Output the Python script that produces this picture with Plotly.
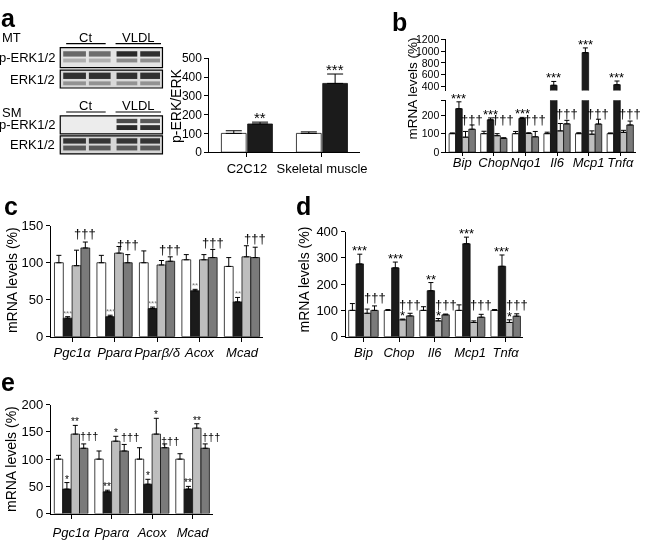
import plotly.graph_objects as go

W, H = 648, 543
FONT = "Liberation Sans, Arial, sans-serif"

# ---------------- data ----------------
# panel a : p-ERK/ERK
a_cats = ["C2C12", "Skeletal muscle"]
a_ct = [100, 100]
a_ct_top = [114, 108]
a_vldl = [150, 366]
a_vldl_top = [160, 416]
a_sig = ["**", "***"]

# panel b : broken axis
b_cats = ["Bip", "Chop", "Nqo1", "Il6", "Mcp1", "Tnfα"]
b_vals = [
    [100, 100, 100, 100, 100, 100],
    [235, 175, 182, 420, 975, 430],
    [81, 89, 101, 115, 97, 107],
    [124, 75, 83, 153, 152, 147],
]
b_tops = [
    [104, 113, 112, 108, 105, 104],
    [272, 185, 188, 485, 1055, 492],
    [112, 100, 105, 155, 115, 118],
    [147, 78, 112, 172, 178, 168],
]
b_star = ["***", "***", "***", "***", "***", "***"]
b_dag_level = [177, 178, 178, 207, 207, 207]
b_low_max = 280
b_up_min = 329

# panel c
c_cats = ["Pgc1α", "Pparα", "Pparβ/δ", "Acox", "Mcad"]
c_vals = [
    [100, 100, 100, 104, 95],
    [25, 27, 38, 62, 47],
    [96, 113, 97, 104, 108],
    [120, 100, 102, 107, 107],
]
c_tops = [
    [110, 110, 116, 111, 107],
    [27, 29, 40, 64, 53],
    [117, 122, 103, 111, 123],
    [128, 111, 108, 118, 121],
]
c_star = ["***", "***", "***", "**", "**"]
c_dag_level = [139, 124, 118, 128, 133]

# panel d
d_cats = ["Bip", "Chop", "Il6", "Mcp1", "Tnfα"]
d_vals = [
    [100, 100, 100, 100, 100],
    [277, 262, 175, 354, 268],
    [89, 64, 60, 54, 54],
    [100, 79, 83, 74, 78],
]
d_tops = [
    [126, 103, 114, 121, 103],
    [314, 284, 206, 379, 311],
    [105, 67, 69, 60, 64],
    [117, 89, 86, 85, 87],
]
d_star_black = ["***", "***", "**", "***", "***"]
d_star_gray = ["", "*", "*", "", "*"]
d_dag_level = [148, 124, 124, 124, 124]

# panel e
e_cats = ["Pgc1α", "Pparα", "Acox", "Mcad"]
e_vals = [
    [100, 100, 100, 100],
    [45, 40, 54, 45],
    [146, 133, 146, 157],
    [120, 115, 121, 120],
]
e_tops = [
    [107, 115, 121, 110],
    [57, 43, 63, 50],
    [162, 142, 175, 165],
    [128, 127, 128, 128],
]
e_star_black = ["*", "**", "*", "**"]
e_star_gray = ["**", "*", "*", "**"]
e_dag_level = [143, 140, 134, 140]

# ---------------- helpers ----------------
def px(x):
    return x / W


def py(y):
    return 1 - y / H


COLORS = ["#ffffff", "#1b1b1b", "#bebebe", "#7a7a7a"]
BARGAP = 0.17
BW = (1 - BARGAP) / 4


def off(i):
    return -(1 - BARGAP) / 2 + (i + 0.5) * BW


fig = go.Figure()


def add_bars(xa, ya, cats, vals, tops, color, cap=2.5, **kw):
    err = [None if (v is None or t is None) else t - v for v, t in zip(vals, tops)]
    fig.add_trace(go.Bar(
        x=cats, y=vals, xaxis=xa, yaxis=ya,
        marker=dict(color=color, line=dict(color="#111", width=0.8)),
        error_y=dict(type="data", symmetric=False, array=err,
                     arrayminus=[0] * len(vals), color="black",
                     thickness=1, width=cap),
        showlegend=False, hoverinfo="skip", **kw))


def ann(xref, yref, x, y, text, size, yanchor="bottom", xanchor="center",
        color="black", yshift=0, xshift=0, **kw):
    fig.add_annotation(x=x, y=y, xref=xref, yref=yref, text=text,
                       showarrow=False, xanchor=xanchor, yanchor=yanchor,
                       yshift=yshift, xshift=xshift,
                       font=dict(family=FONT, size=size, color=color), **kw)


def pann(x, y, text, size, xanchor="center", yanchor="middle", bold=False,
         angle=0):
    fig.add_annotation(x=px(x), y=py(y), xref="paper", yref="paper",
                       text=f"<b>{text}</b>" if bold else text,
                       showarrow=False, xanchor=xanchor, yanchor=yanchor,
                       textangle=angle,
                       font=dict(family=FONT, size=size, color="black"))


# ---------------- panel a ----------------
add_bars("x", "y", a_cats, a_ct, a_ct_top, COLORS[0], cap=8, width=0.33, offset=-0.34)
add_bars("x", "y", a_cats, a_vldl, a_vldl_top, COLORS[1], cap=8, width=0.33, offset=0.01)
for i, s in enumerate(a_sig):
    ann("x", "y", i + 0.175, a_vldl_top[i], s, 15, yshift=-6)

# ---------------- panel b ----------------
for k in range(4):
    low_tops = [t if t <= b_low_max else None for t in b_tops[k]]
    add_bars("x2", "y2", b_cats, b_vals[k], low_tops, COLORS[k])
for k in range(4):
    up_vals = [v if v > b_low_max else None for v in b_vals[k]]
    up_tops = [t if v > b_low_max else None for v, t in zip(b_vals[k], b_tops[k])]
    add_bars("x3", "y3", b_cats, up_vals, up_tops, COLORS[k])
for i, s in enumerate(b_star):
    up = b_tops[1][i] > b_low_max
    ann("x3" if up else "x2", "y3" if up else "y2", i + off(1), b_tops[1][i], s, 13, yshift=-6)
    ann("x2", "y2", i + 0.3, b_dag_level[i], "†††", 13, yanchor="middle")

# ---------------- panel c ----------------
for k in range(4):
    add_bars("x4", "y4", c_cats, c_vals[k], c_tops[k], COLORS[k])
for i, s in enumerate(c_star):
    ann("x4", "y4", i + off(1), c_tops[1][i], s, 8, color="#777", yshift=-3)
    ann("x4", "y4", i + off(3), c_dag_level[i], "†††", 13, yanchor="middle")

# ---------------- panel d ----------------
for k in range(4):
    add_bars("x5", "y5", d_cats, d_vals[k], d_tops[k], COLORS[k])
for i in range(len(d_cats)):
    ann("x5", "y5", i + off(1), d_tops[1][i], d_star_black[i], 13, yshift=-6)
    if d_star_gray[i]:
        ann("x5", "y5", i + off(2), d_tops[2][i], d_star_gray[i], 13, yshift=-6)
    ann("x5", "y5", i + off(3), d_dag_level[i], "†††", 13, yanchor="middle")

# ---------------- panel e ----------------
for k in range(4):
    add_bars("x6", "y6", e_cats, e_vals[k], e_tops[k], COLORS[k])
for i in range(len(e_cats)):
    ann("x6", "y6", i + off(1), e_tops[1][i], e_star_black[i], 10, yshift=-4)
    ann("x6", "y6", i + off(2), e_tops[2][i], e_star_gray[i], 10, yshift=-4)
    ann("x6", "y6", i + 0.45, e_dag_level[i], "†††", 11, yanchor="middle")

# ---------------- axes ----------------
base = dict(showline=True, linecolor="black", linewidth=1, ticks="outside",
            ticklen=4, tickcolor="black", tickwidth=1, showgrid=False,
            zeroline=False, fixedrange=True,
            tickfont=dict(family=FONT, size=12, color="black"))
ital = dict(family=FONT, size=13, color="black", style="italic")


def xax(x0, x1, anchor, n, font=None, **kw):
    d = dict(base, domain=[px(x0), px(x1)], anchor=anchor, type="category",
             range=[-0.5, n - 0.5], tickangle=0)
    d["tickfont"] = font if font else dict(family=FONT, size=13, color="black")
    d.update(kw)
    return d


def yax(y_bottom, y_top, anchor, rng, **kw):
    return dict(base, domain=[py(y_bottom), py(y_top)], anchor=anchor,
                range=rng, **kw)


fig.update_layout(
    width=W, height=H, margin=dict(l=0, r=0, t=0, b=0),
    paper_bgcolor="white", plot_bgcolor="rgba(0,0,0,0)",
    barmode="group", bargap=BARGAP, bargroupgap=0,
    font=dict(family=FONT, color="black"),
    xaxis=xax(212, 364, "y", 2),
    yaxis=yax(149.3, 52.7, "x", [0, 500], dtick=100),
    xaxis2=xax(452, 644, "y2", 6, font=ital, ticklen=3, ticklabelstandoff=-5),
    yaxis2=yax(149.3, 96, "x2", [0, b_low_max],
               tickvals=[0, 100, 200, b_low_max], ticktext=["0", "100", "200", ""],
               tickfont=dict(family=FONT, size=10.5, color="black")),
    xaxis3=dict(domain=[px(452), px(644)], anchor="y3", type="category",
                range=[-0.5, 5.5], visible=False, fixedrange=True),
    yaxis3=yax(86, 33.3, "x3", [b_up_min, 1200],
               tickvals=[400, 600, 800, 1000, 1200],
               tickfont=dict(family=FONT, size=10.5, color="black")),
    xaxis4=xax(51.5, 266.5, "y4", 5, font=ital),
    yaxis4=yax(339, 225, "x4", [0, 150], dtick=50,
               tickfont=dict(family=FONT, size=13, color="black")),
    xaxis5=xax(350, 530, "y5", 5, font=ital),
    yaxis5=yax(339, 231, "x5", [0, 400], dtick=100,
               tickfont=dict(family=FONT, size=13, color="black")),
    xaxis6=xax(51.5, 215.5, "y6", 4, font=ital, ticklabelstandoff=3),
    yaxis6=yax(521, 409, "x6", [0, 200], dtick=50,
               tickfont=dict(family=FONT, size=13, color="black")),
)

# axis titles
pann(178, 101, "p-ERK/ERK", 14, angle=-90)
pann(418, 84, "mRNA levels (%)", 13.5, angle=-90)
pann(12, 281, "mRNA levels (%)", 14, angle=-90)
pann(308, 280, "mRNA levels (%)", 14, angle=-90)
pann(11, 465, "mRNA levels (%)", 14, angle=-90)

# panel letters
pann(9, 11, "a", 25, bold=True)
pann(404, 15, "b", 25, bold=True)
pann(11, 205, "c", 25, bold=True)
pann(307, 205, "d", 25, bold=True)
pann(8, 386, "e", 25, bold=True)

# ---------------- western blot (image-like decoration) ----------------
lanes = [(63, 88), (89, 113), (117, 140), (141, 163)]
blot_rows = [
    dict(label="p-ERK1/2", y0=41.7, y1=62.3, bg="#e4e4e4",
         bands=[(45.5, 51, ["#5a5a5a", "#606060", "#151515", "#1c1c1c"]),
                (53, 57, ["#a8a8a8", "#aaaaaa", "#808080", "#858585"])]),
    dict(label="ERK1/2", y0=65, y1=83.3, bg="#d9d9d9",
         bands=[(67.5, 74, ["#1e1e1e"] * 4), (76.5, 80.5, ["#8a8a8a"] * 4)]),
    dict(label="p-ERK1/2", y0=112, y1=130.5, bg="#ececec",
         bands=[(115, 119.5, [None, None, "#3a3a3a", "#4a4a4a"]),
                (121.5, 126.5, [None, None, "#141414", "#1e1e1e"])]),
    dict(label="ERK1/2", y0=132.5, y1=151, bg="#d6d6d6",
         bands=[(135, 140.5, ["#222222"] * 4), (142.5, 147.5, ["#4a4a4a"] * 4)]),
]
for row in blot_rows:
    fig.add_shape(type="rect", xref="paper", yref="paper",
                  x0=px(61), x1=px(164.5), y0=py(row["y1"]), y1=py(row["y0"]),
                  fillcolor=row["bg"], line=dict(width=0))
    for (b0, b1, cols) in row["bands"]:
        for (l0, l1), c in zip(lanes, cols):
            if c is None:
                continue
            fig.add_shape(type="rect", xref="paper", yref="paper",
                          x0=px(l0 + 1), x1=px(l1 - 1), y0=py(b1), y1=py(b0),
                          fillcolor=c, line=dict(width=0), opacity=0.9)
    fig.add_shape(type="rect", xref="paper", yref="paper",
                  x0=px(61), x1=px(164.5), y0=py(row["y1"]), y1=py(row["y0"]),
                  fillcolor="rgba(0,0,0,0)", line=dict(color="black", width=1.2))
    pann(58, (row["y0"] + row["y1"]) / 2, row["label"], 13, xanchor="right")

for ytxt, yline in [(31, 37.7), (101, 108)]:
    pann(87, ytxt, "Ct", 13)
    pann(140, ytxt, "VLDL", 13)
    for (l0, l1) in [(67, 107), (117, 163)]:
        fig.add_shape(type="line", xref="paper", yref="paper",
                      x0=px(l0), x1=px(l1), y0=py(yline), y1=py(yline),
                      line=dict(color="black", width=1.2))
pann(0, 31, "MT", 13, xanchor="left")
pann(0, 108, "SM", 13, xanchor="left")

fig.write_html(
    "out.html",
    config={"displayModeBar": False, "staticPlot": True},
    post_script=(
        "document.documentElement.style.margin='0px';"
        "document.documentElement.style.padding='0px';"
        "document.documentElement.style.overflow='hidden';"
        "document.body.style.margin='0px';"
        "document.body.style.padding='0px';"
        "document.body.style.overflow='hidden';"
        "var gd=document.getElementById('{plot_id}');"
        "gd.style.position='fixed';gd.style.top='0px';gd.style.left='0px';"
        "document.querySelectorAll('svg.main-svg').forEach(function(s){s.style.willChange='transform';});"
    ),
)
